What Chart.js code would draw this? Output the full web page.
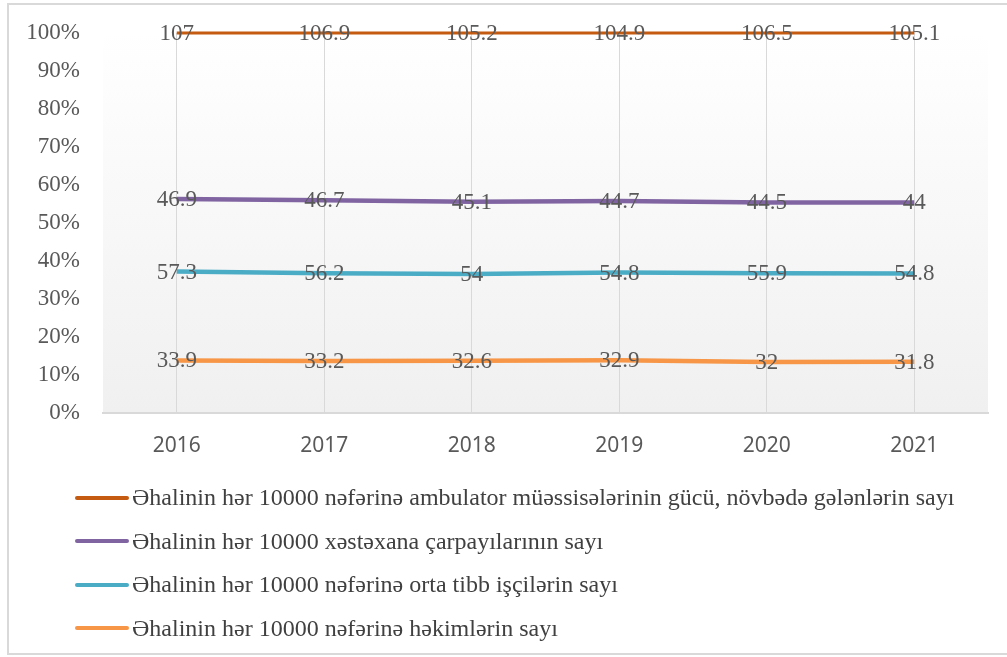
<!DOCTYPE html>
<html lang="az">
<head>
  <meta charset="UTF-8" />
  <title>Səhiyyə göstəriciləri</title>
  <script src="https://cdn.jsdelivr.net/npm/chart.js"></script>
  <style>
    body {
      margin: 0;
      background: #fff;
      width: 1007px;
      height: 657px;
      overflow: hidden;
      position: relative;
    }

    #frame {
      position: absolute;
      left: 7px;
      top: 3px;
      width: 1010px;
      height: 652px;
      border: 2px solid #d9d9d9;
      box-sizing: border-box;
    }

    canvas {
      position: absolute;
      left: 0;
      top: 0;
    }

    #legend {
      position: absolute;
      left: 75px;
      top: 476px;
      font-family: 'Liberation Serif', 'Times New Roman', serif;
      font-size: 24px;
      color: #404040;
    }

    .item {
      height: 43.5px;
      display: flex;
      align-items: center;
      white-space: nowrap;
    }

    .swatch {
      width: 54px;
      height: 4px;
      border-radius: 2px;
      margin-right: 3px;
    }
  </style>
</head>
<body>
  <div id="frame"></div>
  <canvas id="chart" width="1007" height="657"></canvas>
  <div id="legend"></div>

  <script>
    const years = ["2016", "2017", "2018", "2019", "2020", "2021"];

    // bottom to top of the stack
    const doctors = [33.9, 33.2, 32.6, 32.9, 32, 31.8];
    const nurses = [57.3, 56.2, 54, 54.8, 55.9, 54.8];
    const beds = [46.9, 46.7, 45.1, 44.7, 44.5, 44];
    const clinics = [107, 106.9, 105.2, 104.9, 106.5, 105.1];

    const yTicks = [0, 10, 20, 30, 40, 50, 60, 70, 80, 90, 100];

    const names = {
      clinics: "Əhalinin hər 10000 nəfərinə ambulator müəssisələrinin gücü, növbədə gələnlərin sayı",
      beds: "Əhalinin hər 10000 xəstəxana çarpayılarının sayı",
      nurses: "Əhalinin hər 10000 nəfərinə orta tibb işçilərin sayı",
      doctors: "Əhalinin hər 10000 nəfərinə həkimlərin sayı"
    };

    const colors = {
      clinics: "#c55a11",
      beds: "#8064a2",
      nurses: "#4bacc6",
      doctors: "#f79646"
    };

    // 100% stacked: each year's values as share of that year's total
    const totals = years.map((_, i) => doctors[i] + nurses[i] + beds[i] + clinics[i]);
    const share = arr => arr.map((v, i) => v / totals[i] * 100);

    const makeSet = (key, arr, width) => ({
      label: names[key],
      data: share(arr),
      raw: arr,
      borderColor: colors[key],
      backgroundColor: colors[key],
      borderWidth: width,
      pointRadius: 0,
      tension: 0,
      fill: false,
      clip: false
    });

    const plotBg = {
      id: "plotBg",
      beforeDraw(chart) {
        const { ctx, chartArea: a } = chart;
        const g = ctx.createLinearGradient(0, a.top, 0, a.bottom);
        g.addColorStop(0, "#ffffff");
        g.addColorStop(1, "#f0f0f0");
        ctx.save();
        ctx.fillStyle = g;
        ctx.fillRect(a.left, a.top, a.right - a.left, a.bottom - a.top);
        ctx.restore();
      }
    };

    const valueLabels = {
      id: "valueLabels",
      afterDatasetsDraw(chart) {
        const ctx = chart.ctx;
        ctx.save();
        ctx.font = "23px 'Liberation Serif', 'Times New Roman', serif";
        ctx.fillStyle = "#595959";
        ctx.textAlign = "center";
        ctx.textBaseline = "middle";
        chart.data.datasets.forEach((ds, di) => {
          chart.getDatasetMeta(di).data.forEach((pt, i) => {
            ctx.fillText(String(ds.raw[i]), pt.x, pt.y + 1);
          });
        });
        ctx.restore();
      }
    };

    new Chart(document.getElementById("chart"), {
      type: "line",
      data: {
        labels: years,
        datasets: [
          makeSet("doctors", doctors, 4.5),
          makeSet("nurses", nurses, 4.5),
          makeSet("beds", beds, 4.5),
          makeSet("clinics", clinics, 3)
        ]
      },
      options: {
        responsive: false,
        animation: false,
        layout: { padding: { top: 33, right: 19, bottom: 184, left: 0 } },
        plugins: {
          legend: { display: false },
          tooltip: { enabled: false }
        },
        scales: {
          x: {
            offset: true,
            grid: { color: "#d9d9d9", offset: false, drawTicks: false },
            border: { color: "#d9d9d9", width: 2 },
            ticks: {
              padding: 20,
              color: "#595959",
              font: { family: "'Noto Sans', sans-serif", size: 21 }
            },
            afterFit(s) { s.height = 60; }
          },
          y: {
            stacked: true,
            min: 0,
            max: 100,
            grid: { display: false, drawTicks: false },
            border: { display: false },
            afterBuildTicks(s) { s.ticks = yTicks.map(v => ({ value: v })); },
            ticks: {
              padding: 23,
              color: "#595959",
              font: { family: "'Liberation Serif', 'Times New Roman', serif", size: 23 },
              callback: v => v + "%"
            },
            afterFit(s) {
              s.width = 103;
              s.paddingTop = 0;
              s.paddingBottom = 0;
            }
          }
        }
      },
      plugins: [plotBg, valueLabels]
    });

    // legend, top series first
    const legend = document.getElementById("legend");
    ["clinics", "beds", "nurses", "doctors"].forEach(key => {
      const row = document.createElement("div");
      row.className = "item";
      const sw = document.createElement("span");
      sw.className = "swatch";
      sw.style.background = colors[key];
      const txt = document.createElement("span");
      txt.textContent = names[key];
      row.appendChild(sw);
      row.appendChild(txt);
      legend.appendChild(row);
    });
  </script>
</body>
</html>
